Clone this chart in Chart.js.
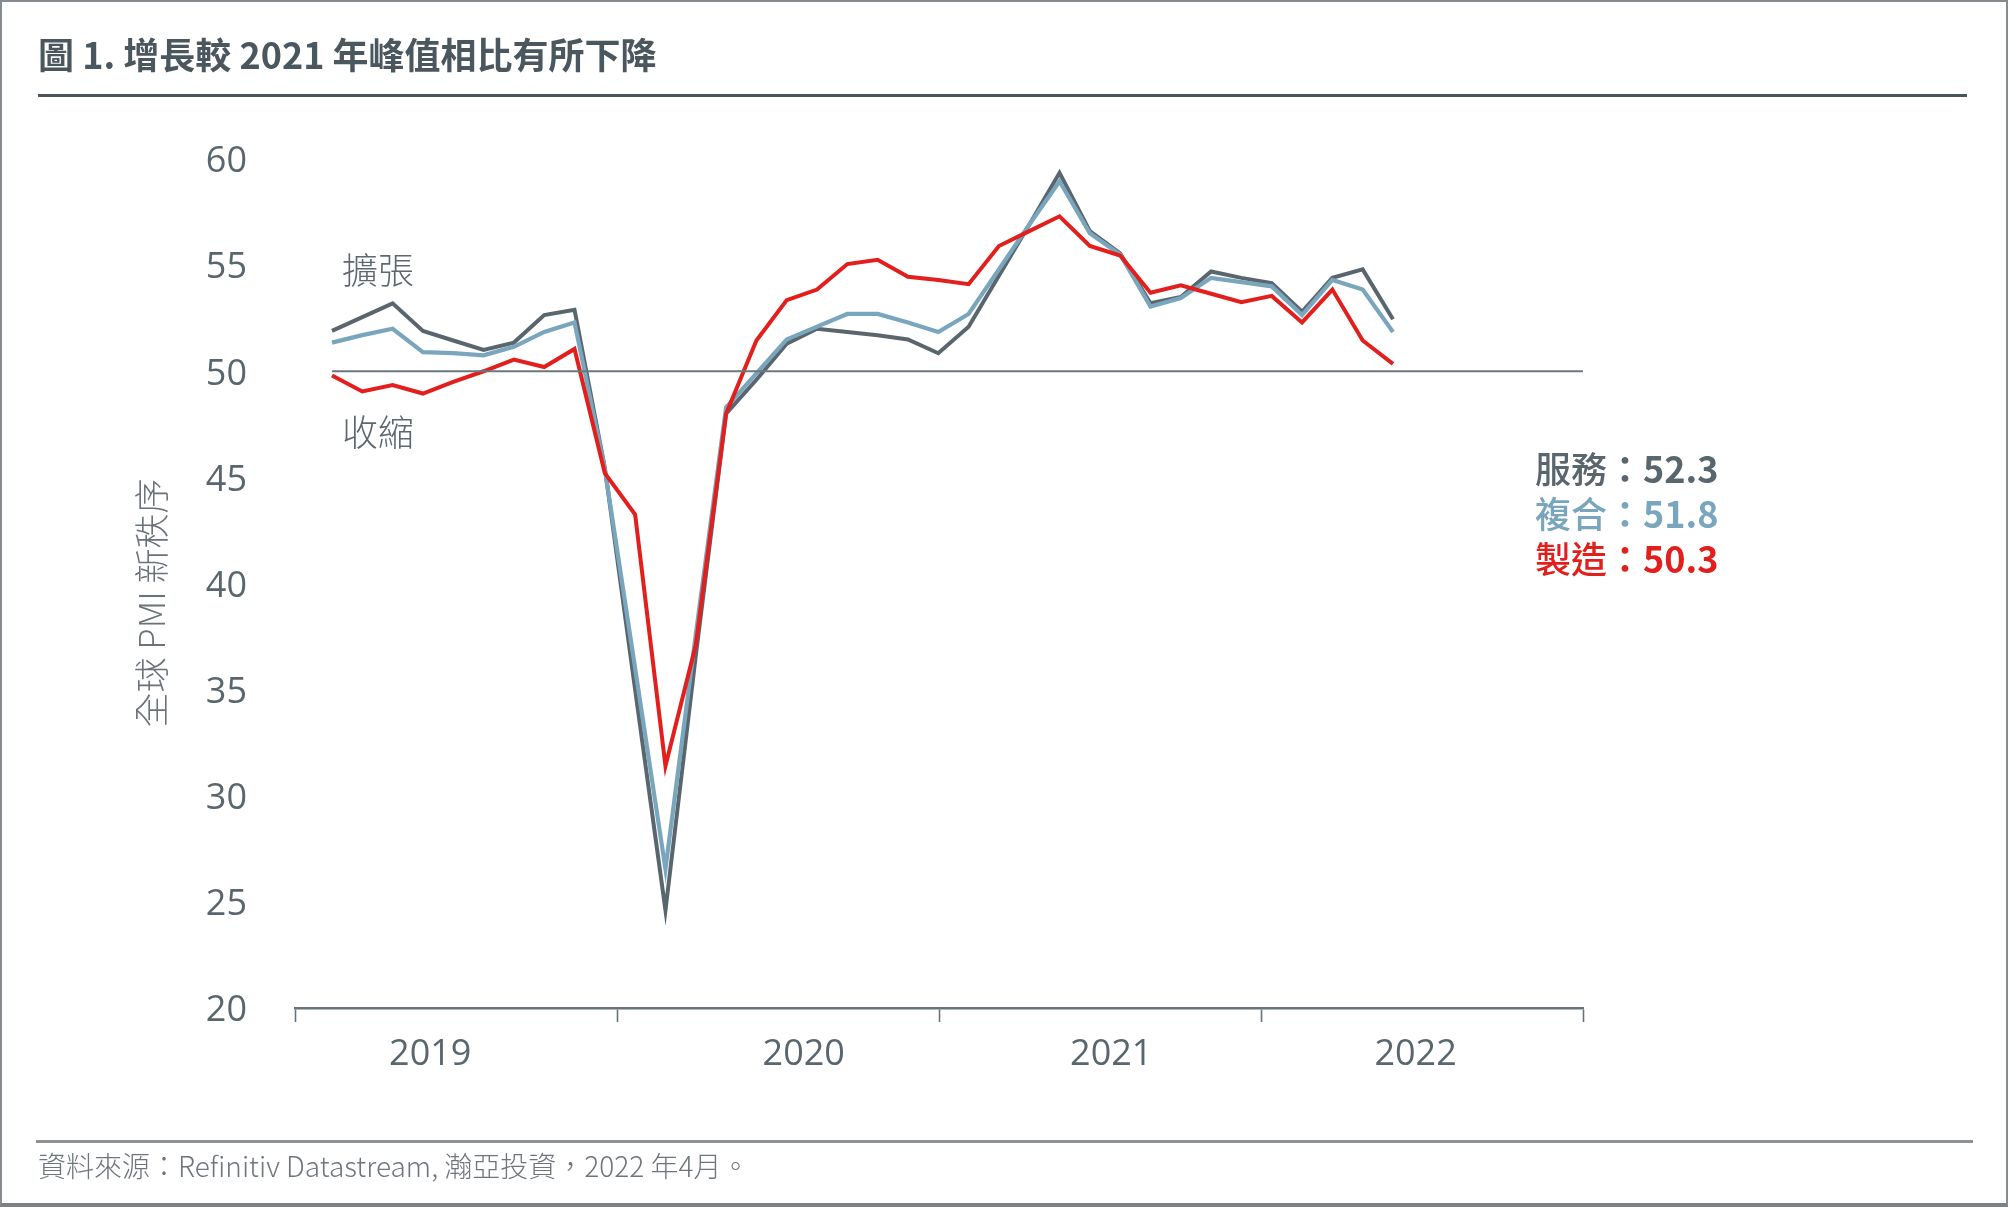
<!DOCTYPE html>
<html>
<head>
<meta charset="utf-8">
<script src="https://cdn.jsdelivr.net/npm/chart.js@4.4.1/dist/chart.umd.min.js"></script>
<style>
  html, body { margin: 0; padding: 0; background: #ffffff; }
  #wrap { position: relative; width: 2008px; height: 1207px; overflow: hidden; background: #fff; }
  #c { position: absolute; left: 0; top: 0; }
  .t { position: absolute; white-space: nowrap; font-family: "Noto Sans CJK TC", "Noto Sans", sans-serif; }
  #frame { position: absolute; left: 0; top: 0; width: 2004px; height: 1201px; border-left: 2px solid #868b8f; border-top: 2px solid #868b8f; border-right: 2px solid #868b8f; border-bottom: 4px solid #7c8185; pointer-events: none; }
  #title { left: 38px; top: 35px; font-size: 36px; line-height: 36px; font-weight: 700; color: #4b575e; }
  #tline { position: absolute; left: 38px; top: 94px; width: 1929px; height: 3px; background: #4b5559; }
  #fline { position: absolute; left: 36px; top: 1140px; width: 1937px; height: 3px; background: #8d9296; }
  #foot { left: 38px; top: 1151px; font-size: 28px; line-height: 28px; font-weight: 300; color: #6e767b; }
  #ytitle { left: 149px; top: 603px; font-size: 35px; line-height: 35px; font-weight: 300; color: #6a7378; transform: translate(-50%, -50%) rotate(-90deg); }
  .zone { left: 342px; font-size: 36px; line-height: 36px; font-weight: 300; color: #5d686e; }
  .val { left: 1535px; font-size: 36px; line-height: 36px; font-weight: 500; }
  .val b { font-weight: 700; }
</style>
</head>
<body>
<div id="wrap">
  <canvas id="c" width="2008" height="1207"></canvas>
  <div id="frame"></div>
  <div class="t" id="title">圖 1. 增長較 2021 年峰值相比有所下降</div>
  <div id="tline"></div>
  <div class="t" id="ytitle">全球 PMI 新秩序</div>
  <div class="t zone" style="top:250px;">擴張</div>
  <div class="t zone" style="top:412px;">收縮</div>
  <div class="t val" id="v1" style="top:449px;"></div>
  <div class="t val" id="v2" style="top:494px;"></div>
  <div class="t val" id="v3" style="top:539px;"></div>
  <div id="fline"></div>
  <div class="t" id="foot">資料來源：Refinitiv Datastream, 瀚亞投資，2022 年4月。</div>
</div>
<script>
// ---- data ----
const MONTHS = [
  '2019-05','2019-06','2019-07','2019-08','2019-09','2019-10','2019-11','2019-12',
  '2020-01','2020-02','2020-03','2020-04','2020-05','2020-06','2020-07','2020-08',
  '2020-09','2020-10','2020-11','2020-12','2021-01','2021-02','2021-03','2021-04',
  '2021-05','2021-06','2021-07','2021-08','2021-09','2021-10','2021-11','2021-12',
  '2022-01','2022-02','2022-03','2022-04'
];
const SERVICES = [
  51.9, 52.55, 53.2, 51.9, 51.45, 51.0, 51.35, 52.65,
  52.9, 45.45, 35.0, 24.6, 36.6, 48.0, 49.6, 51.3,
  52.0, 51.85, 51.7, 51.5, 50.85, 52.1, 54.5, 56.9,
  59.35, 56.6, 55.55, 53.2, 53.5, 54.7, 54.4, 54.15,
  52.8, 54.4, 54.8, 52.45
];
const COMPOSITE = [
  51.35, 51.7, 52.0, 50.9, 50.85, 50.75, 51.15, 51.85,
  52.3, 45.4, 36.0, 26.55, 37.6, 48.3, 49.9, 51.5,
  52.1, 52.7, 52.7, 52.3, 51.85, 52.7, 54.8, 56.9,
  58.95, 56.5, 55.5, 53.05, 53.45, 54.4, 54.2, 54.0,
  52.65, 54.3, 53.85, 51.85
];
const MANUFACTURING = [
  49.8, 49.05, 49.35, 48.95, 49.5, 50.0, 50.55, 50.2,
  51.05, 45.2, 43.25, 31.4, 37.1, 48.0, 51.45, 53.35,
  53.85, 55.05, 55.25, 54.45, 54.3, 54.1, 55.9, 56.6,
  57.3, 55.9, 55.45, 53.7, 54.05, 53.65, 53.25, 53.55,
  52.3, 53.85, 51.45, 50.35
];
const SERIES_NAMES = ['服務', '複合', '製造'];
const LATEST_LABELS = ['52.3', '51.8', '50.3'];
const YEAR_LABELS = ['2019', '2020', '2021', '2022'];
const YEAR_LABEL_POS = [0.42, 1.58, 2.535, 3.48];
const Y_TICKS = [20, 25, 30, 35, 40, 45, 50, 55, 60];
const THRESHOLD = 50;

// ---- styles ----
const C_SERV = '#5a666e';
const C_COMP = '#79a6bc';
const C_MANU = '#e21f1c';
const C_AXIS = '#67737a';
const C_TEXT = '#5a666e';

const X_MIN = -1.2206, X_MAX = 41.268;

const toXY = arr => arr.map((v, i) => ({ x: i, y: v }));

[C_SERV, C_COMP, C_MANU].forEach((c, k) => {
  const el = document.getElementById('v' + (k + 1));
  el.style.color = c;
  el.innerHTML = SERIES_NAMES[k] + '<b>：' + LATEST_LABELS[k] + '</b>';
});

const yearTicks = [];
for (let k = 0; k <= YEAR_LABELS.length; k++) yearTicks.push({ value: k, label: '' });
YEAR_LABEL_POS.forEach((p, k) => yearTicks.push({ value: p, label: YEAR_LABELS[k] }));
yearTicks.sort((a, b) => a.value - b.value);

new Chart(document.getElementById('c'), {
  type: 'line',
  data: {
    datasets: [
      { label: 'threshold', data: [{ x: 0, y: THRESHOLD }, { x: X_MAX, y: THRESHOLD }],
        borderColor: '#6b777e', borderWidth: 2, pointRadius: 0, xAxisID: 'x', yAxisID: 'y' },
      { label: SERIES_NAMES[2], data: toXY(MANUFACTURING), borderColor: C_MANU, borderWidth: 4,
        pointRadius: 0, tension: 0, borderJoinStyle: 'miter', xAxisID: 'x', yAxisID: 'y' },
      { label: SERIES_NAMES[1], data: toXY(COMPOSITE), borderColor: C_COMP, borderWidth: 4.2,
        pointRadius: 0, tension: 0, borderJoinStyle: 'miter', xAxisID: 'x', yAxisID: 'y' },
      { label: SERIES_NAMES[0], data: toXY(SERVICES), borderColor: C_SERV, borderWidth: 4,
        pointRadius: 0, tension: 0, borderJoinStyle: 'miter', xAxisID: 'x', yAxisID: 'y' }
    ]
  },
  options: {
    responsive: false,
    animation: false,
    devicePixelRatio: 1,
    layout: { padding: { left: 0, top: 159, right: 425, bottom: 99 } },
    plugins: { legend: { display: false }, tooltip: { enabled: false } },
    scales: {
      x: { type: 'linear', min: X_MIN, max: X_MAX, display: false },
      xYear: {
        type: 'linear', position: 'bottom', min: 0, max: YEAR_LABELS.length,
        afterBuildTicks: s => { s.ticks = yearTicks.map(t => ({ value: t.value })); },
        afterFit: s => { s.height = 100; },
        ticks: {
          autoSkip: false, maxRotation: 0, minRotation: 0, padding: 11,
          color: C_TEXT, font: { family: 'Open Sans', size: 36 },
          callback: (v, i) => yearTicks[i].label
        },
        grid: {
          drawOnChartArea: false, drawTicks: true, tickLength: 14, tickWidth: 1.6,
          tickColor: ctx => (ctx.tick && Number.isInteger(ctx.tick.value)) ? C_AXIS : 'rgba(0,0,0,0)'
        },
        border: { display: true, color: C_AXIS, width: 2.5 }
      },
      y: {
        type: 'linear', position: 'left', min: 20, max: 60,
        afterBuildTicks: s => { s.ticks = Y_TICKS.map(v => ({ value: v })); },
        afterFit: s => { s.width = 295; },
        ticks: { padding: 48, labelOffset: 3, color: C_TEXT, font: { family: 'Open Sans', size: 36 } },
        grid: { display: false, drawTicks: false },
        border: { display: false }
      }
    }
  }
});
</script>
</body>
</html>
